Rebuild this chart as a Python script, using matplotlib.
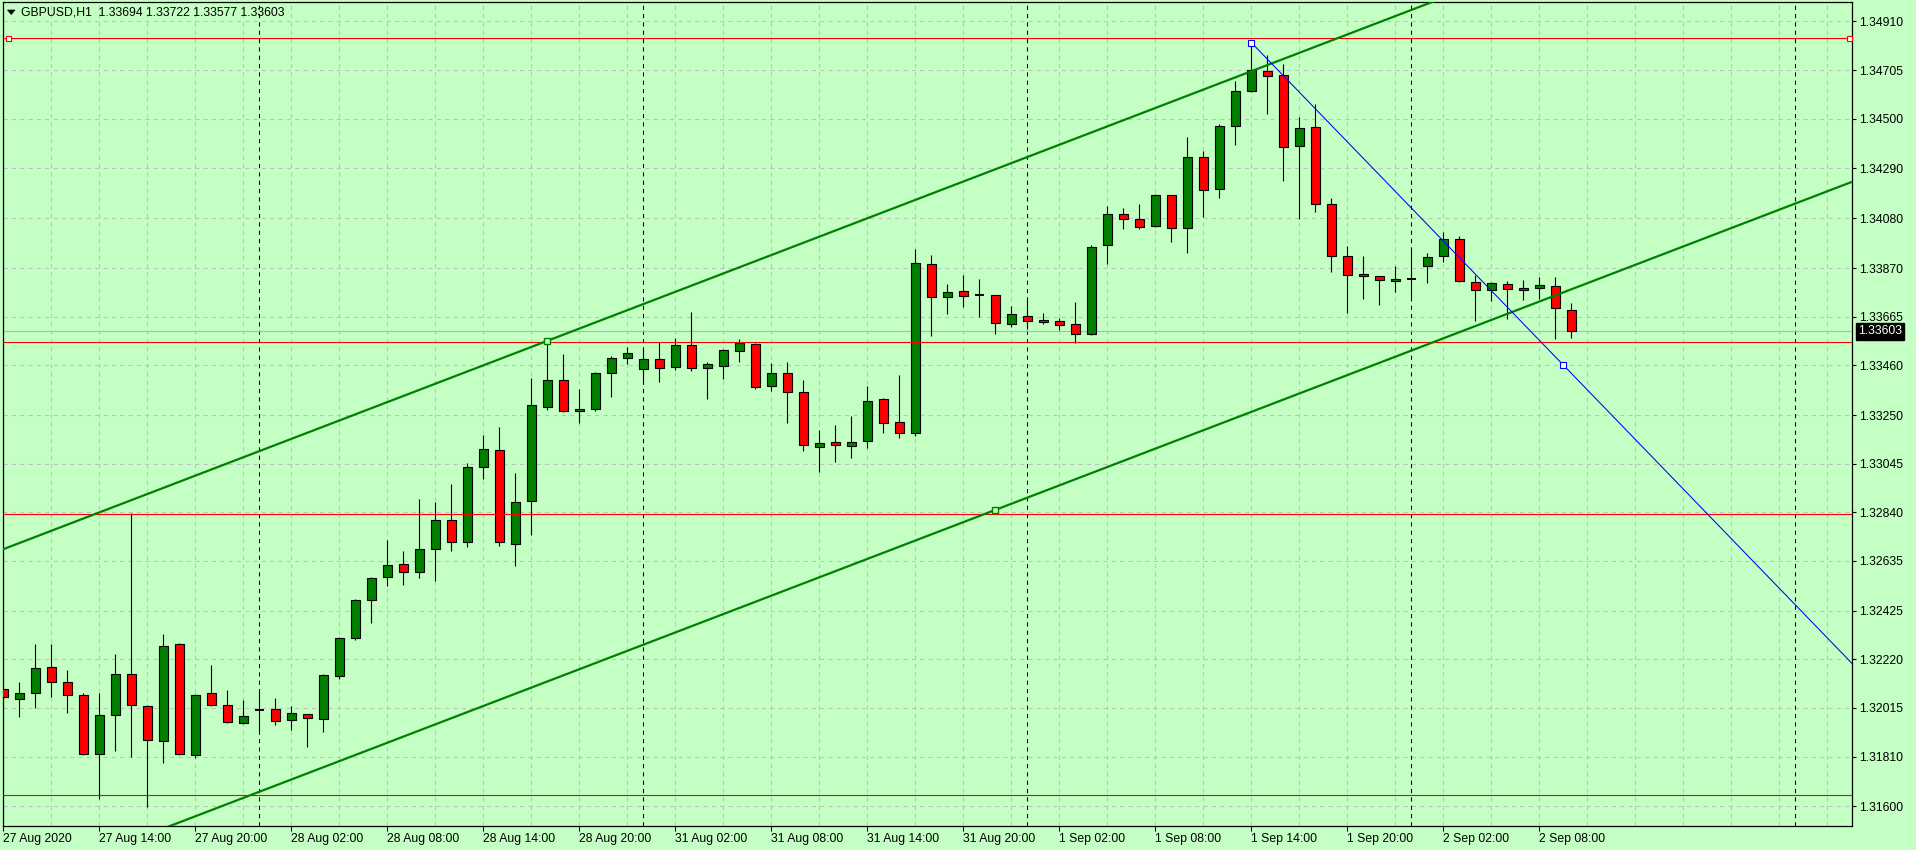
import matplotlib
matplotlib.use("Agg")
import matplotlib.pyplot as plt
import matplotlib.transforms as mtransforms
from matplotlib.patches import Polygon
import numpy as np

plt.rcParams['font.family'] = ['Liberation Sans', 'DejaVu Sans']
plt.rcParams['lines.scale_dashes'] = False

W, H = 1916, 850
BG = "#c4ffc4"
GRID = "#c0c0c0"
BULL = "#008000"
BEAR = "#ff0000"

title = "GBPUSD,H1  1.33694 1.33722 1.33577 1.33603"

# ---------------- data (H1 bars, 27 Aug 2020 08:00 .. 2 Sep 2020 10:00) ----------------
opens = [1.32094, 1.32051, 1.32077, 1.32186, 1.32123, 1.32068, 1.31822, 1.31984, 1.32157, 1.32022,
         1.31874, 1.32283, 1.31815, 1.32077, 1.32026, 1.31950, 1.32007, 1.32009, 1.31963, 1.31988,
         1.31967, 1.32148, 1.32309, 1.32469, 1.32566, 1.32621, 1.32587, 1.32684, 1.32806, 1.32716,
         1.33030, 1.33102, 1.32705, 1.32887, 1.33286, 1.33397, 1.33266, 1.33275, 1.33426, 1.33490,
         1.33443, 1.33485, 1.33452, 1.33545, 1.33447, 1.33456, 1.33519, 1.33549, 1.33372, 1.33426,
         1.33346, 1.33116, 1.33137, 1.33120, 1.33141, 1.33317, 1.33220, 1.33175, 1.33886, 1.33747,
         1.33772, 1.33755, 1.33755, 1.33633, 1.33667, 1.33650, 1.33646, 1.33633, 1.33591, 1.33966,
         1.34097, 1.34076, 1.34046, 1.34177, 1.34038, 1.34337, 1.34202, 1.34468, 1.34616, 1.34700,
         1.34683, 1.34384, 1.34464, 1.34139, 1.33920, 1.33844, 1.33836, 1.33815, 1.33825, 1.33878,
         1.33920, 1.33992, 1.33810, 1.33777, 1.33802, 1.33777, 1.33785, 1.33793, 1.33694]
highs = [1.32107, 1.32124, 1.32285, 1.32285, 1.32175, 1.32077, 1.32077, 1.32242, 1.32838, 1.32026,
         1.32327, 1.32288, 1.32072, 1.32196, 1.32091, 1.32048, 1.32081, 1.32057, 1.32022, 1.31991,
         1.32158, 1.32314, 1.32474, 1.32566, 1.32723, 1.32677, 1.32896, 1.32884, 1.32959, 1.33047,
         1.33166, 1.33200, 1.33006, 1.33407, 1.33563, 1.33508, 1.33360, 1.33431, 1.33499, 1.33537,
         1.33532, 1.33557, 1.33575, 1.33685, 1.33473, 1.33528, 1.33571, 1.33555, 1.33469, 1.33474,
         1.33398, 1.33187, 1.33208, 1.33246, 1.33373, 1.33321, 1.33419, 1.33951, 1.33925, 1.33803,
         1.33841, 1.33823, 1.33757, 1.33709, 1.33734, 1.33680, 1.33658, 1.33726, 1.33968, 1.34132,
         1.34122, 1.34140, 1.34181, 1.34180, 1.34422, 1.34364, 1.34477, 1.34659, 1.34821, 1.34768,
         1.34730, 1.34506, 1.34561, 1.34165, 1.33962, 1.33920, 1.33837, 1.33878, 1.33954, 1.33933,
         1.34024, 1.34004, 1.33840, 1.33810, 1.33815, 1.33819, 1.33831, 1.33831, 1.33722]
lows = [1.32009, 1.31978, 1.32016, 1.32062, 1.31995, 1.31818, 1.31632, 1.31835, 1.31809, 1.31598,
        1.31784, 1.31815, 1.31802, 1.32024, 1.31952, 1.31946, 1.31919, 1.31944, 1.31923, 1.31851,
        1.31915, 1.32136, 1.32303, 1.32374, 1.32530, 1.32533, 1.32564, 1.32552, 1.32678, 1.32695,
        1.32982, 1.32699, 1.32615, 1.32746, 1.33273, 1.33264, 1.33218, 1.33266, 1.33328, 1.33464,
        1.33388, 1.33388, 1.33439, 1.33435, 1.33319, 1.33404, 1.33475, 1.33359, 1.33350, 1.33218,
        1.33099, 1.33010, 1.33052, 1.33069, 1.33111, 1.33175, 1.33153, 1.33162, 1.33585, 1.33678,
        1.33707, 1.33665, 1.33593, 1.33623, 1.33612, 1.33636, 1.33610, 1.33555, 1.33588, 1.33889,
        1.34036, 1.34036, 1.34044, 1.33981, 1.33935, 1.34087, 1.34165, 1.34391, 1.34614, 1.34521,
        1.34239, 1.34078, 1.34108, 1.33855, 1.33682, 1.33741, 1.33716, 1.33771, 1.33741, 1.33809,
        1.33897, 1.33813, 1.33648, 1.33733, 1.33657, 1.33737, 1.33741, 1.33572, 1.33577]
closes = [1.32060, 1.32077, 1.32182, 1.32123, 1.32068, 1.31822, 1.31984, 1.32157, 1.32026, 1.31878,
          1.32275, 1.31819, 1.32068, 1.32026, 1.31954, 1.31980, 1.32007, 1.31959, 1.31992, 1.31971,
          1.32153, 1.32309, 1.32470, 1.32562, 1.32617, 1.32587, 1.32684, 1.32806, 1.32716, 1.33030,
          1.33106, 1.32714, 1.32882, 1.33291, 1.33397, 1.33266, 1.33275, 1.33426, 1.33490, 1.33511,
          1.33485, 1.33447, 1.33545, 1.33447, 1.33464, 1.33523, 1.33553, 1.33367, 1.33426, 1.33346,
          1.33124, 1.33132, 1.33124, 1.33137, 1.33308, 1.33215, 1.33175, 1.33890, 1.33747, 1.33768,
          1.33751, 1.33755, 1.33637, 1.33675, 1.33646, 1.33642, 1.33629, 1.33591, 1.33958, 1.34097,
          1.34076, 1.34042, 1.34177, 1.34038, 1.34337, 1.34198, 1.34468, 1.34616, 1.34704, 1.34679,
          1.34380, 1.34460, 1.34139, 1.33920, 1.33840, 1.33836, 1.33819, 1.33823, 1.33825, 1.33916,
          1.33992, 1.33815, 1.33777, 1.33806, 1.33781, 1.33785, 1.33798, 1.33701, 1.33603]

x_labels = ["27 Aug 2020", "27 Aug 14:00", "27 Aug 20:00", "28 Aug 02:00", "28 Aug 08:00",
            "28 Aug 14:00", "28 Aug 20:00", "31 Aug 02:00", "31 Aug 08:00", "31 Aug 14:00",
            "31 Aug 20:00", "1 Sep 02:00", "1 Sep 08:00", "1 Sep 14:00", "1 Sep 20:00",
            "2 Sep 02:00", "2 Sep 08:00"]
y_ticks = [1.34910, 1.34705, 1.34500, 1.34290, 1.34080, 1.33870, 1.33665, 1.33460, 1.33250,
           1.33045, 1.32840, 1.32635, 1.32425, 1.32220, 1.32015, 1.31810, 1.31600]

red_levels = [1.34839, 1.33557, 1.32833, 1.31646]
bid = 1.33603
day_starts = [16, 40, 64, 88, 112]

# equidistant channel: two points on upper line, one on lower
chan_p1 = (34, 1.33563)
chan_p2 = (78, 1.34700)
chan_p3 = (62, 1.32850)
# trend line (ray to the right)
trend_p1 = (78, 1.34821)
trend_p2 = (97.5, 1.33461)

# ---------------- layout ----------------
L, R, T, B = 2.5, 1852, 2, 826
fig = plt.figure(figsize=(W / 100, H / 100), dpi=100, facecolor=BG)
ax = fig.add_axes([L / W, 1 - B / H, (R - L) / W, (B - T) / H])
ax.set_facecolor(BG)
n_right = (R - 3.3) / 16
ax.set_xlim(-0.05, n_right)
ax.set_ylim(1.31517, 1.34992)

dash = (0, (3, 3))
for v in y_ticks:
    ax.axhline(v, color=GRID, lw=0.75, ls=dash, zorder=0)
for i in range(3, int(n_right) + 1, 3):
    ax.axvline(i, color=GRID, lw=0.75, ls=dash, zorder=0)
for i in day_starts:
    ax.axvline(i, color="black", lw=0.75, ls=dash, zorder=1)

# ---------------- candles ----------------
o = np.array(opens); c = np.array(closes)
hi = np.array(highs); lo = np.array(lows)
x = np.arange(len(o))
ax.vlines(x, lo, hi, color="black", lw=0.8, zorder=3)
bw = 0.58
up = c > o
dn = c < o
eq = c == o
ax.bar(x[up], c[up] - o[up], bottom=o[up], width=bw, color=BULL,
       edgecolor="black", linewidth=0.8, zorder=4)
ax.bar(x[dn], o[dn] - c[dn], bottom=c[dn], width=bw, color=BEAR,
       edgecolor="black", linewidth=0.8, zorder=4)
ax.hlines(c[eq], x[eq] - bw / 2, x[eq] + bw / 2, color="black", lw=1.4, zorder=4)

# ---------------- objects ----------------
ax.axhline(bid, color="#b4b4b4", lw=0.8, zorder=2)
for lvl in red_levels:
    ax.axhline(lvl, color="red", lw=0.8, zorder=5)
ax.plot([0.003, 0.9985], [red_levels[0]] * 2, transform=mtransforms.blended_transform_factory(ax.transAxes, ax.transData),
        ls="none", marker="s", ms=3.6, mfc="white", mec="red", mew=0.8, zorder=7, clip_on=False)

slope = (chan_p2[1] - chan_p1[1]) / (chan_p2[0] - chan_p1[0])
xs = np.array([-2, n_right + 2])
ax.plot(xs, chan_p1[1] + slope * (xs - chan_p1[0]), color=BULL, lw=1.6, zorder=6)
ax.plot(xs, chan_p3[1] + slope * (xs - chan_p3[0]), color=BULL, lw=1.6, zorder=6)
ax.plot([chan_p1[0], chan_p3[0]], [chan_p1[1], chan_p3[1]], ls="none", marker="s",
        ms=4, mfc=BG, mec=BULL, mew=1.0, zorder=7)

tslope = (trend_p2[1] - trend_p1[1]) / (trend_p2[0] - trend_p1[0])
txs = np.array([trend_p1[0], n_right + 2])
ax.plot(txs, trend_p1[1] + tslope * (txs - trend_p1[0]), color="#0000ff", lw=0.75, zorder=6)
ax.plot([trend_p1[0], trend_p2[0]], [trend_p1[1], trend_p2[1]], ls="none", marker="s",
        ms=4, mfc="white", mec="#0000ff", mew=0.8, zorder=7)

# ---------------- axes ----------------
for s in ax.spines.values():
    s.set_color("black")
    s.set_linewidth(0.9)
ax.yaxis.tick_right()
ax.set_yticks(y_ticks)
ax.set_yticklabels([f"{v:.5f}" for v in y_ticks])
ax.set_xticks(np.arange(0, 6 * len(x_labels), 6))
ax.set_xticklabels(x_labels)
for lbl in ax.get_xticklabels():
    lbl.set_horizontalalignment("left")
ax.tick_params(axis="y", direction="out", length=3, width=0.8, pad=2.2, labelsize=8.85, colors="black")
ax.tick_params(axis="x", direction="out", length=3.5, width=0.8, pad=1.5, labelsize=8.85, colors="black")

bt = mtransforms.blended_transform_factory(fig.transFigure, ax.transData)
fig.text(1858 / W, bid, f"{bid:.5f}", transform=bt, color="white", fontsize=8.85,
         va="center", ha="left",
         bbox=dict(boxstyle="square,pad=0.18", facecolor="black", edgecolor="black"))

fig.text(21.3 / W, 1 - 12.7 / H, title, fontsize=8.85, va="center", ha="left", color="black")
tri = Polygon([[7.5 / W, 1 - 10 / H], [15 / W, 1 - 10 / H], [11.25 / W, 1 - 14.5 / H]],
              closed=True, transform=fig.transFigure, facecolor="black", edgecolor="black", lw=0.5)
fig.patches.append(tri)

fig.savefig("out.png", dpi=100, facecolor=BG)
